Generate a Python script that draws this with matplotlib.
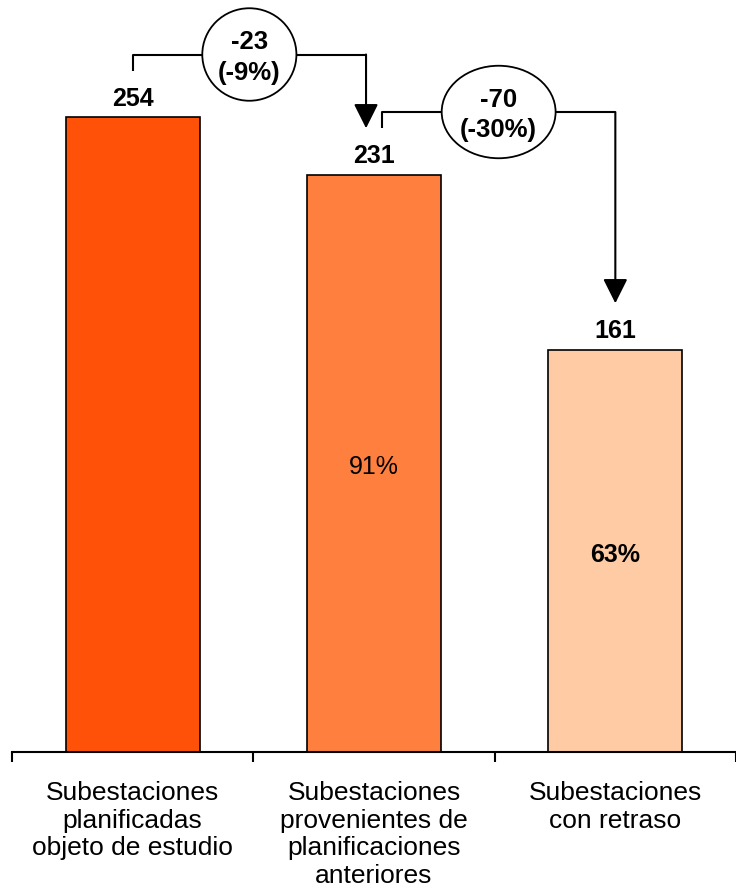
import matplotlib.pyplot as plt
from matplotlib.patches import Ellipse

plt.rcParams['font.family'] = ['Liberation Sans', 'DejaVu Sans']

# Datos
categorias = ['Subestaciones\nplanificadas\nobjeto de estudio',
              'Subestaciones\nprovenientes de\nplanificaciones\nanteriores',
              'Subestaciones\ncon retraso']
valores = [254, 231, 161]
colores = ['#FF5208', '#FF7F3F', '#FFCBA4']
porcentajes = ['', '91%', '63%']
pct_negrita = [False, False, True]
deltas = ['-23\n(-9%)', '-70\n(-30%)']

fig = plt.figure(figsize=(7.36, 8.95), dpi=100)
ax = fig.add_axes([12 / 736, 142 / 895, 1 - 12 / 736, 753 / 895])

x = list(range(len(valores)))
ax.bar(x, valores, width=0.556, color=colores, edgecolor='black', linewidth=1.2, zorder=2)
ax.set_xlim(-0.5, 2.5)
ax.set_ylim(0, 301.2)

# etiquetas de valor
for xi, v in zip(x, valores):
    ax.text(xi, v + 3, str(v), ha='center', va='bottom', fontsize=18, fontweight='bold')

# porcentajes dentro de las barras
for xi, v, p, b in zip(x, valores, porcentajes, pct_negrita):
    if p:
        ax.text(xi, v / 2 - 1.2, p, ha='center', va='center', fontsize=18,
                fontweight='bold' if b else 'normal')

# conectores con elipses
dx = 0.033
anchos = [0.39, 0.472]
for i, txt in enumerate(deltas):
    x0 = x[i] + (dx if i > 0 else 0)
    x1 = x[i + 1] - (dx if i + 1 < len(valores) - 1 else 0)
    y_ini = valores[i] + 18.5
    y_h = valores[i] + 25
    y_fin = valores[i + 1] + 18.5
    xm = (x0 + x1) / 2
    w = anchos[i]
    ax.plot([x0, x0, xm - w / 2], [y_ini, y_h, y_h], color='black', lw=1.5,
            clip_on=False, solid_capstyle='butt', zorder=3)
    ax.plot([xm + w / 2, x1], [y_h, y_h], color='black', lw=1.5,
            clip_on=False, solid_capstyle='butt', zorder=3)
    ax.annotate('', xy=(x1, y_fin), xytext=(x1, y_h),
                arrowprops=dict(arrowstyle='-|>,head_length=0.6,head_width=0.3',
                                mutation_scale=25, lw=1.5, color='black',
                                shrinkA=0, shrinkB=0),
                annotation_clip=False)
    ax.add_patch(Ellipse((xm, y_h), w, 37, facecolor='white', edgecolor='black',
                         lw=1.3, zorder=4, clip_on=False))
    ax.text(xm, y_h - 0.8, txt, ha='center', va='center', fontsize=18.5, fontweight='bold',
            linespacing=1.32, zorder=5)

# ejes
for s in ['top', 'right', 'left']:
    ax.spines[s].set_visible(False)
ax.spines['bottom'].set_linewidth(1.5)
ax.set_yticks([])
ax.set_xticks(x)
ax.set_xticklabels(categorias, fontsize=19, linespacing=1.2, va='top')
ax.tick_params(axis='x', which='major', length=0, pad=20)
ax.set_xticks([-0.5, 0.5, 1.5, 2.5], minor=True)
ax.tick_params(axis='x', which='minor', length=7, width=1.5, direction='out')

fig.savefig('out.png', dpi=100)
